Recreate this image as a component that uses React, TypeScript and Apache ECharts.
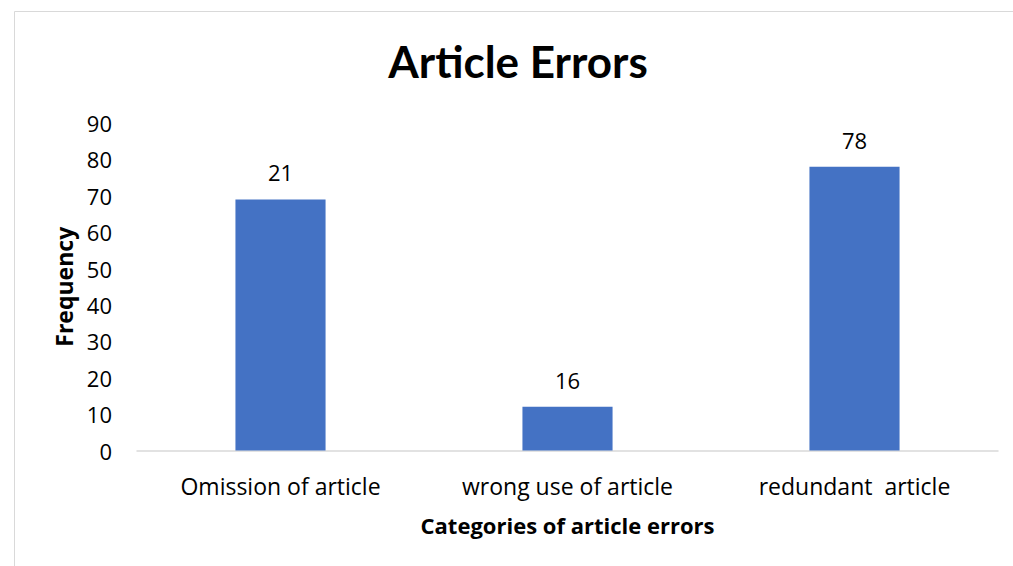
import React, { useEffect, useRef } from "react";
import * as echarts from "echarts";

const categories = ["Omission of article", "wrong use of article", "redundant  article"];
const barValues = [69, 12, 78];
const labelTexts = ["21", "16", "78"];
const yTicks = { min: 0, max: 90, interval: 10 };

const FONT = "'Open Sans', 'Noto Sans', sans-serif";
const TITLE_FONT = "Lato, 'Open Sans', sans-serif";

export default function App() {
  const ref = useRef<HTMLDivElement>(null);
  useEffect(() => {
    if (!ref.current) return;
    const chart = echarts.init(ref.current, undefined, { renderer: "svg" });
    chart.setOption({
      animation: false,
      backgroundColor: "#ffffff",
      title: {
        text: "Article Errors",
        left: 513,
        textAlign: "center",
        top: 34,
        textStyle: { fontFamily: TITLE_FONT, fontWeight: "bold", fontSize: 44, color: "#000" },
      },
      graphic: [
        {
          type: "rect",
          shape: { x: 14.5, y: 11.5, width: 1010, height: 570 },
          style: { fill: "none", stroke: "#d9d9d9", lineWidth: 1 },
          silent: true,
        },
      ],
      grid: { left: 137, right: 15, top: 123, bottom: 115.5, containLabel: false },
      xAxis: {
        type: "category",
        data: categories,
        axisLine: { show: true, lineStyle: { color: "#d9d9d9", width: 1.5 } },
        axisTick: { show: false },
        axisLabel: { fontFamily: FONT, fontSize: 23, color: "#000", margin: 24 },
        name: "Categories of article errors",
        nameLocation: "middle",
        nameGap: 63,
        nameTextStyle: { fontFamily: FONT, fontWeight: "bold", fontSize: 22, color: "#000" },
      },
      yAxis: {
        type: "value",
        min: yTicks.min,
        max: yTicks.max,
        interval: yTicks.interval,
        splitLine: { show: false },
        axisLine: { show: false },
        axisTick: { show: false },
        axisLabel: { fontFamily: FONT, fontSize: 22, color: "#000", margin: 25 },
        name: "Frequency",
        nameLocation: "middle",
        nameGap: 58,
        nameTextStyle: { fontFamily: FONT, fontWeight: "bold", fontSize: 23, color: "#000" },
      },
      series: [
        {
          type: "bar",
          data: barValues,
          barWidth: "31.4%",
          itemStyle: { color: "#4472C4" },
          label: {
            show: true,
            position: "top",
            distance: 16,
            fontFamily: FONT,
            fontSize: 22,
            color: "#000",
            formatter: (p: any) => labelTexts[p.dataIndex],
          },
        },
      ],
    });
    return () => chart.dispose();
  }, []);
  return (
    <div
      ref={ref}
      style={{ position: "fixed", left: 0, top: 0, width: 1013, height: 566 }}
    />
  );
}
